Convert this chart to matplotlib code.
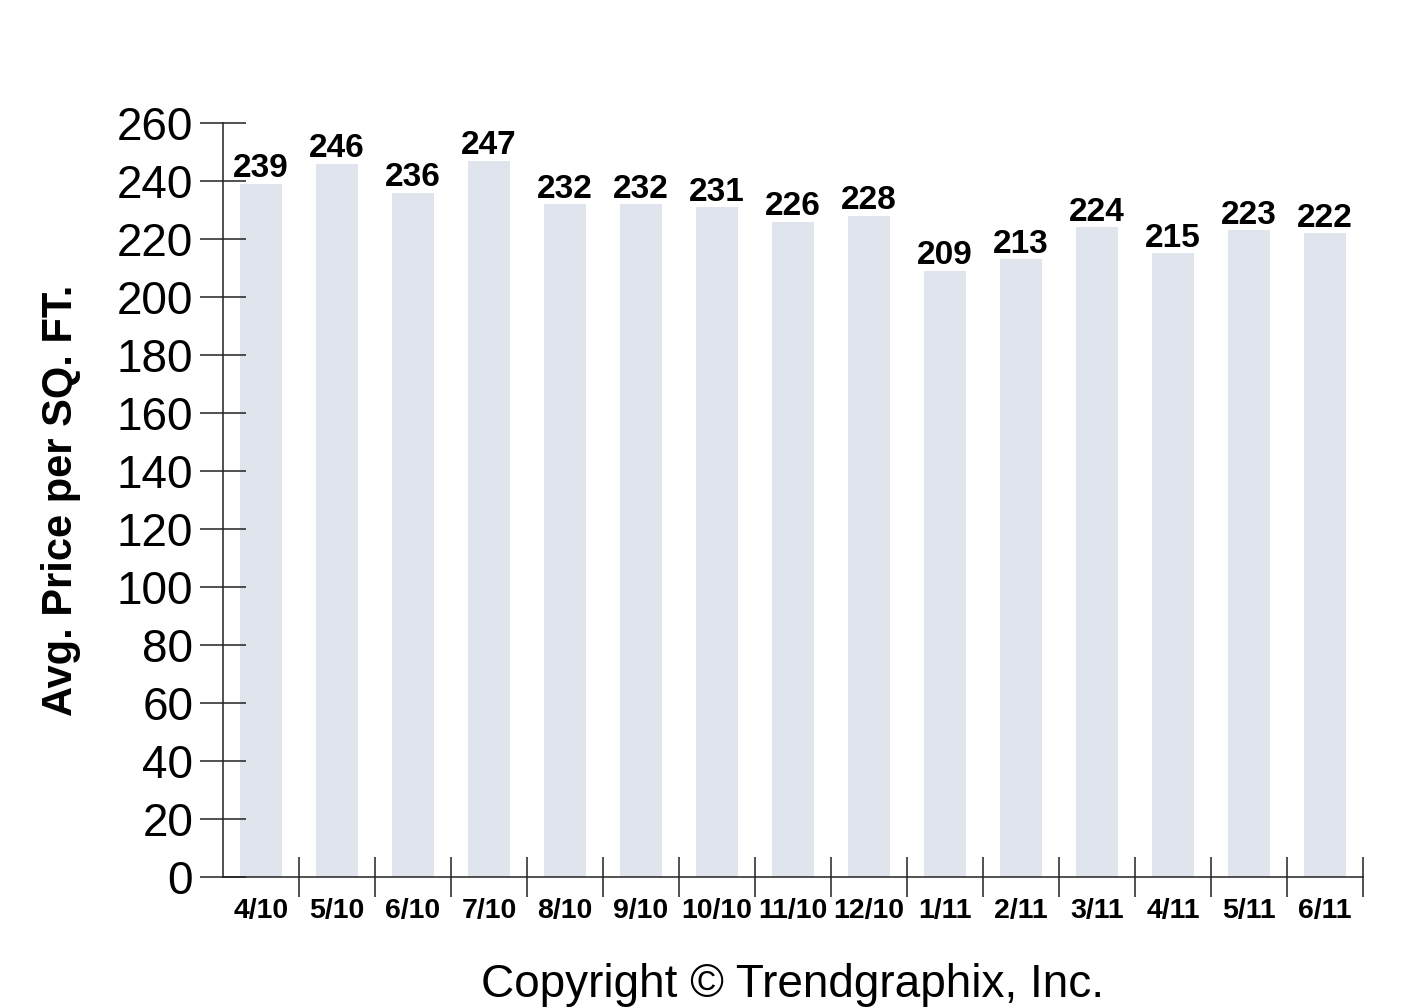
import matplotlib.pyplot as plt
import numpy as np

# Data
months = ['4/10', '5/10', '6/10', '7/10', '8/10', '9/10', '10/10', '11/10',
          '12/10', '1/11', '2/11', '3/11', '4/11', '5/11', '6/11']
price_per_sqft = [239, 246, 236, 247, 232, 232, 231, 226, 228, 209, 213, 224, 215, 223, 222]
y_ticks = list(range(0, 261, 20))

plt.rcParams['font.family'] = ['Liberation Sans', 'DejaVu Sans']

fig = plt.figure(figsize=(14.17, 10.08), dpi=100)
ax = fig.add_axes([223 / 1417, 131 / 1008, 1140 / 1417, 754 / 1008])

x = np.arange(len(months))
ax.bar(x, price_per_sqft, width=0.54, color='#e0e4ec', zorder=1)

for xi, v in zip(x, price_per_sqft):
    ax.text(xi, v - 0.2, str(v), ha='center', va='bottom',
            fontsize=24, fontweight='bold', color='black')

ax.set_xlim(-0.5, len(months) - 0.5)
ax.set_ylim(0, 260)

ax.spines['top'].set_visible(False)
ax.spines['right'].set_visible(False)
for s in ['left', 'bottom']:
    ax.spines[s].set_linewidth(1.1)
    ax.spines[s].set_color('#222222')

# y axis ticks
ax.set_yticks(y_ticks)
ax.set_yticklabels([str(t) for t in y_ticks], fontsize=33)
ax.tick_params(axis='y', direction='inout', length=33, width=1.1,
               color='#222222', pad=5)

# x axis: separator ticks between categories, labels centred
ax.set_xticks(np.arange(0.5, len(months), 1.0))
ax.set_xticklabels([])
ax.set_xticks(x, minor=True)
ax.set_xticklabels(months, minor=True, fontsize=20.5, fontweight='bold')
ax.tick_params(axis='x', which='major', direction='inout', length=29,
               width=1.1, color='#222222')
ax.tick_params(axis='x', which='minor', length=0, pad=15)

ax.set_ylabel('Avg. Price per SQ. FT.', fontsize=30, fontweight='bold',
              labelpad=26)
ax.set_xlabel('Copyright \u00a9 Trendgraphix, Inc.', fontsize=33, labelpad=28)

fig.savefig('out.png', dpi=100)
